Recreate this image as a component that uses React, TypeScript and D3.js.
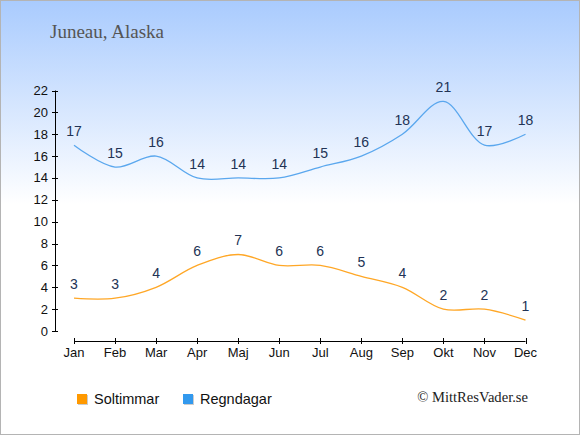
import React from "react";
import * as d3 from "d3";

const months = ["Jan", "Feb", "Mar", "Apr", "Maj", "Jun", "Jul", "Aug", "Sep", "Okt", "Nov", "Dec"];
const sunHours = [3, 3, 4, 6, 7, 6, 6, 5, 4, 2, 2, 1];
const rainDays = [17, 15, 16, 14, 14, 14, 15, 16, 18, 21, 17, 18];
const yTicks = [0, 2, 4, 6, 8, 10, 12, 14, 16, 18, 20, 22];
const title = "Juneau, Alaska";
const seriesNames = ["Soltimmar", "Regndagar"];
const credit = "© MittResVader.se";

const W = 580;
const H = 435;

export default function App() {
  const x = d3.scalePoint<string>().domain(months).range([74, 525.5]);
  const y = d3.scaleLinear().domain([0, 22]).range([331, 90.5]);
  const line = d3
    .line<number>()
    .x((_, i) => x(months[i]) as number)
    .y((d) => y(d))
    .curve(d3.curveCatmullRom.alpha(0.5));

  const labelColor = "#223355";
  const sans = "'Liberation Sans', Arial, sans-serif";
  const serif = "'Liberation Serif', 'DejaVu Serif', serif";

  const series = [
    { name: seriesNames[0], values: sunHours, line: "#ffa726", box: "#ff9900" },
    { name: seriesNames[1], values: rainDays, line: "#5aa7ee", box: "#3399ee" },
  ];

  return (
    <svg
      width={W}
      height={H}
      style={{ position: "absolute", left: 0, top: 0 }}
      xmlns="http://www.w3.org/2000/svg"
    >
      <defs>
        <linearGradient id="bg" x1="0" y1="0" x2="0" y2="1">
          <stop offset="0" stopColor="#a9cbfe" />
          <stop offset="0.47" stopColor="#ffffff" />
          <stop offset="1" stopColor="#ffffff" />
        </linearGradient>
        <filter id="sh" x="-30%" y="-30%" width="160%" height="160%">
          <feDropShadow dx="1" dy="1" stdDeviation="0.6" floodColor="#000" floodOpacity="0.2" />
        </filter>
      </defs>
      <rect x={0.5} y={0.5} width={W - 1} height={H - 1} fill="url(#bg)" stroke="#b4b4b4" strokeWidth={1} />

      <text x={50} y={38} fontFamily={serif} fontSize={19} fill="#555555">
        {title}
      </text>

      {/* y axis */}
      <line x1={55.5} x2={55.5} y1={y(22)} y2={y(0)} stroke="#000" strokeWidth={1} />
      {yTicks.map((t) => (
        <g key={t}>
          <line x1={52} x2={58} y1={Math.round(y(t)) + 0.5} y2={Math.round(y(t)) + 0.5} stroke="#000" />
          <text x={48} y={y(t) + 4.5} textAnchor="end" fontFamily={sans} fontSize={13} fill="#111">
            {t}
          </text>
        </g>
      ))}

      {/* x axis */}
      <line x1={x(months[0])} x2={x(months[11])} y1={341.5} y2={341.5} stroke="#000" strokeWidth={1} />
      {months.map((m) => (
        <g key={m}>
          <line
            x1={Math.round(x(m) as number) + 0.5}
            x2={Math.round(x(m) as number) + 0.5}
            y1={338}
            y2={344}
            stroke="#000"
          />
          <text x={x(m)} y={357} textAnchor="middle" fontFamily={sans} fontSize={13} fill="#111">
            {m}
          </text>
        </g>
      ))}

      {series.map((s) => (
        <g key={s.name}>
          <path d={line(s.values) ?? ""} fill="none" stroke={s.line} strokeWidth={1.3} />
          {s.values.map((v, i) => (
            <text
              key={i}
              x={x(months[i])}
              y={y(v) - 9}
              textAnchor="middle"
              fontFamily={sans}
              fontSize={14}
              fill={labelColor}
            >
              {v}
            </text>
          ))}
        </g>
      ))}

      {/* legend */}
      {series.map((s, i) => (
        <g key={s.name} transform={`translate(${77 + i * 106}, 394)`}>
          <rect x={0} y={0} width={10} height={10} fill={s.box} filter="url(#sh)" />
          <text x={17} y={10} fontFamily={sans} fontSize={14.5} fill="#111">
            {s.name}
          </text>
        </g>
      ))}

      <text x={528} y={402} textAnchor="end" fontFamily={serif} fontSize={14.6} fill="#222">
        {credit}
      </text>
    </svg>
  );
}
